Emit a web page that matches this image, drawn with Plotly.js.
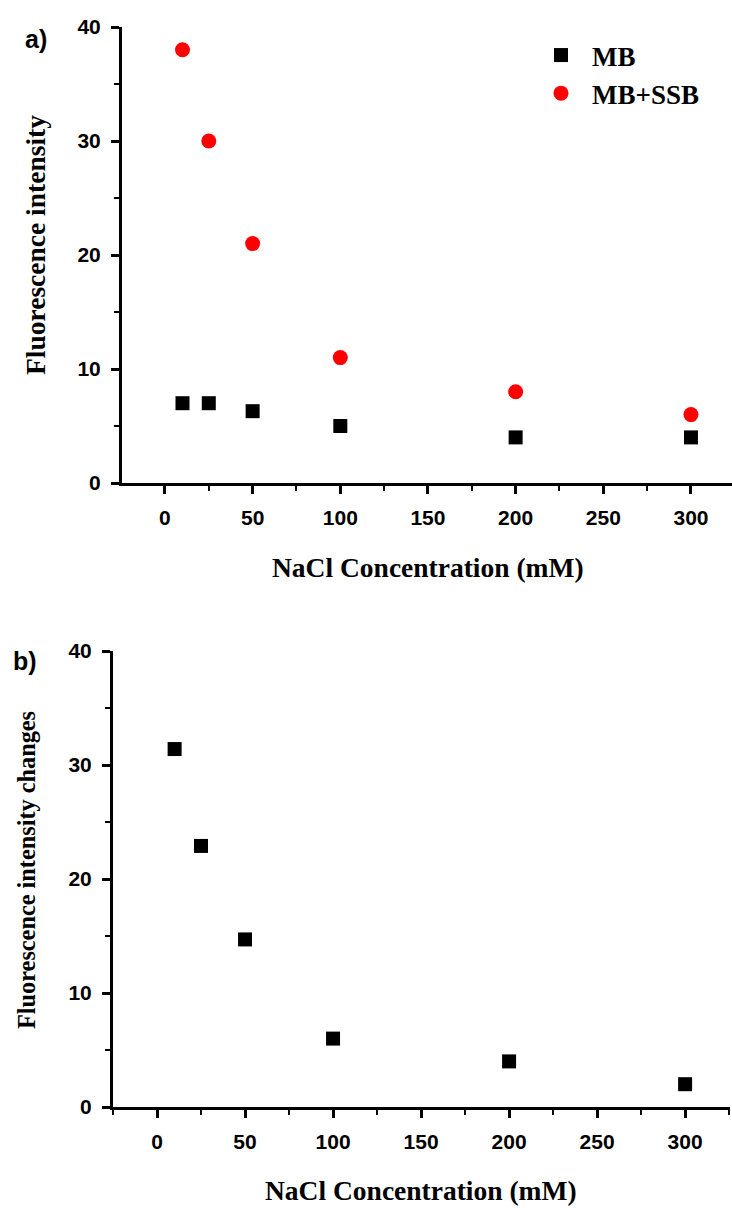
<!DOCTYPE html>
<html><head><meta charset="utf-8">
<script src="https://cdn.plot.ly/plotly-3.0.1.min.js"></script>
<style>html,body{margin:0;padding:0;background:#fff}#c{width:732px;height:1213px}</style>
</head><body><div id="c"></div>
<script>
const nacl = [10, 25, 50, 100, 200, 300];
const mb = [7.0, 7.0, 6.3, 5.0, 4.0, 4.0];
const mbSsb = [38.0, 30.0, 21.0, 11.0, 8.0, 6.0];
const changes = [31.4, 22.9, 14.7, 6.0, 4.0, 2.0];
const yTicks = [0, 10, 20, 30, 40];
const xTicks = [0, 50, 100, 150, 200, 250, 300];

const H = 1213, W = 732;
const tickFont = {family: 'Liberation Sans, Arial, sans-serif', size: 21, color: '#000', weight: 'bold'};
const serif = 'Liberation Serif, Times New Roman, serif';

function xax(domain, range) {
  return {domain: domain, range: range, showgrid: false, zeroline: false, showline: true,
    linecolor: '#000', linewidth: 3, ticks: 'outside', ticklen: 8, tickwidth: 3, tickcolor: '#000',
    tickvals: xTicks, ticktext: xTicks.map(String), tickfont: tickFont, ticklabelstandoff: 6,
    minor: {dtick: 25, tick0: 0, ticks: 'outside', ticklen: 5, tickwidth: 2, tickcolor: '#000', showgrid: false}};
}
function yax(domain, anchor) {
  return {domain: domain, range: [0, 40], anchor: anchor, showgrid: false, zeroline: false, showline: true,
    linecolor: '#000', linewidth: 3, ticks: 'outside', ticklen: 8, tickwidth: 3, tickcolor: '#000',
    tickvals: yTicks, ticktext: yTicks.map(String), tickfont: tickFont, ticklabelstandoff: 6,
    minor: {dtick: 5, tick0: 0, ticks: 'outside', ticklen: 5, tickwidth: 2, tickcolor: '#000', showgrid: false}};
}

const data = [
  {x: nacl, y: mb, type: 'scatter', mode: 'markers', name: 'MB', legendgroup: 'g1', xaxis: 'x', yaxis: 'y',
   marker: {symbol: 'square', size: 14, color: '#000'}, cliponaxis: false},
  {x: nacl, y: mbSsb, type: 'scatter', mode: 'markers', name: 'MB+SSB', legendgroup: 'g2', xaxis: 'x', yaxis: 'y',
   marker: {symbol: 'circle', size: 15, color: '#ff0000'}, cliponaxis: false},
  {x: nacl, y: changes, type: 'scatter', mode: 'markers', name: 'changes', showlegend: false, xaxis: 'x2', yaxis: 'y2',
   marker: {symbol: 'square', size: 14, color: '#000'}, cliponaxis: false}
];

function ann(text, x, y, size, angle, fam) {
  return {text: text, xref: 'paper', yref: 'paper', x: x / W, y: 1 - y / H, xanchor: 'center', yanchor: 'middle',
    textangle: angle || 0, showarrow: false,
    font: {family: fam || serif, size: size, color: '#000', weight: 'bold'}};
}

const layout = {
  width: W, height: H, margin: {l: 0, r: 0, t: 0, b: 0},
  paper_bgcolor: '#fff', plot_bgcolor: '#fff',
  xaxis: Object.assign(xax([122 / W, 1], [-24.5, 323.4]), {anchor: 'y'}),
  yaxis: yax([1 - 483 / H, 1 - 27 / H], 'x'),
  xaxis2: Object.assign(xax([113 / W, 730 / W], [-25, 325.5]), {anchor: 'y2'}),
  yaxis2: yax([1 - 1107 / H, 1 - 651 / H], 'x2'),
  showlegend: true,
  legend: {x: 530 / W, y: 1 - 31 / H, xanchor: 'left', yanchor: 'top', bgcolor: 'rgba(0,0,0,0)',
    font: {family: serif, size: 27, color: '#000', weight: 'bold'},
    traceorder: 'grouped', tracegroupgap: 0, itemwidth: 52},
  annotations: [
    ann('a)', 36, 39, 25, 0, 'Liberation Sans, Arial, sans-serif'),
    ann('b)', 25, 661, 25, 0, 'Liberation Sans, Arial, sans-serif'),
    ann('Fluorescence intensity', 35, 245, 27.5, -90),
    ann('NaCl Concentration (mM)', 428, 567, 27.5),
    ann('Fluorescence intensity changes', 26, 870, 24.3, -90),
    ann('NaCl Concentration (mM)', 421, 1190, 27.5)
  ]
};

Plotly.newPlot('c', data, layout, {staticPlot: true, displayModeBar: false});
</script></body></html>
